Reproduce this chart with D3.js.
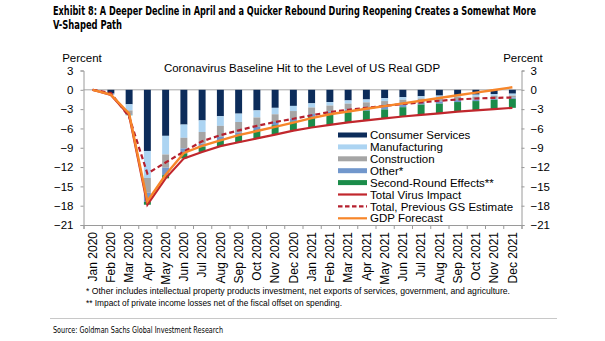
<!DOCTYPE html>
<html>
<head>
<meta charset="utf-8">
<script src="https://cdnjs.cloudflare.com/ajax/libs/d3/7.8.5/d3.min.js"></script>
<style>
  body { margin: 0; background: #fff; }
  svg text { font-family: "Liberation Sans", Arial, sans-serif; fill: #000; }
  svg text.narrow { font-family: "Liberation Sans Narrow", "Arial Narrow", "DejaVu Sans Condensed", sans-serif; }
</style>
</head>
<body>
<script>
// months on the x axis
var months = ["Jan 2020", "Feb 2020", "Mar 2020", "Apr 2020", "May 2020", "Jun 2020",
              "Jul 2020", "Aug 2020", "Sep 2020", "Oct 2020", "Nov 2020", "Dec 2020",
              "Jan 2021", "Feb 2021", "Mar 2021", "Apr 2021", "May 2021", "Jun 2021",
              "Jul 2021", "Aug 2021", "Sep 2021", "Oct 2021", "Nov 2021", "Dec 2021"];

// stacked contributions (percent of GDP level)
var consumerServices = [0, -0.6, -2.25, -9.5, -7.15, -5.4, -4.75, -4.1, -3.7, -3.2, -2.8, -2.5,
                        -2.1, -1.9, -1.65, -1.5, -1.3, -1.15, -1.0, -0.9, -0.8, -0.75, -0.65, -0.6];
var manufacturing    = [0, -0.1, -0.95, -4.2, -2.9, -2.05, -1.8, -1.5, -1.3, -1.1, -1.0, -0.8,
                        -0.65, -0.55, -0.5, -0.45, -0.45, -0.4, -0.35, -0.35, -0.3, -0.3, -0.3, -0.3];
var construction     = [0, -0.05, -0.6, -2.3, -2.05, -1.65, -1.8, -1.7, -1.65, -1.45, -1.2, -1.15,
                        -1.0, -0.95, -0.9, -0.85, -0.85, -0.75, -0.6, -0.55, -0.5, -0.45, -0.4, -0.3];
var other            = [0, -0.05, -0.1, -1.4, -1.15, -0.75, -0.5, -0.5, -0.4, -0.5, -0.5, -0.5,
                        -0.45, -0.45, -0.45, -0.45, -0.45, -0.4, -0.35, -0.35, -0.3, -0.25, -0.2, -0.2];
var secondRound      = [0, 0, -0.05, -0.45, -0.5, -0.8, -0.8, -0.95, -1.1, -1.3, -1.45, -1.4,
                        -1.65, -1.6, -1.55, -1.5, -1.4, -1.45, -1.6, -1.5, -1.5, -1.45, -1.45, -1.4];

// line series
var totalVirus  = [0, -0.8, -3.95, -17.85, -13.75, -10.65, -9.65, -8.75, -8.15, -7.55, -6.95, -6.35,
                   -5.85, -5.45, -5.05, -4.75, -4.45, -4.15, -3.9, -3.65, -3.4, -3.2, -3.0, -2.8];
var previousGS  = [0, -0.5, -4.2, -13.0, -11.3, -9.6, -8.0, -7.05, -6.3, -5.6, -5.0, -4.5,
                   -3.95, -3.45, -3.1, -2.8, -2.5, -2.2, -1.95, -1.7, -1.5, -1.35, -1.25, -1.2];
var gdpForecast = [0, -0.75, -3.7, -17.3, -13.2, -9.8, -8.7, -7.85, -7.05, -6.4, -5.75, -5.1,
                   -4.4, -3.8, -3.36, -2.95, -2.53, -2.11, -1.69, -1.27, -0.85, -0.44, -0.02, 0.4];

var yTicks = [3, 0, -3, -6, -9, -12, -15, -18, -21];

var barKeys   = ["Consumer Services", "Manufacturing", "Construction", "Other*", "Second-Round Effects**"];
var barColors = ["#0c2c5a", "#acd4f2", "#a5a5a5", "#7197cc", "#1b8c4a"];
var lineNames = ["Total Virus Impact", "Total, Previous GS Estimate", "GDP Forecast"];

var width = 605, height = 341;
var svg = d3.select("body").append("svg")
    .attr("width", width)
    .attr("height", height);

// header
svg.append("text").attr("class", "narrow")
    .attr("x", 53).attr("y", 15)
    .attr("textLength", 483).attr("lengthAdjust", "spacingAndGlyphs")
    .style("font-size", "11.5px").style("font-weight", "bold")
    .text("Exhibit 8: A Deeper Decline in April and a Quicker Rebound During Reopening Creates a Somewhat More");
svg.append("text").attr("class", "narrow")
    .attr("x", 53).attr("y", 29)
    .attr("textLength", 69).attr("lengthAdjust", "spacingAndGlyphs")
    .style("font-size", "11.5px").style("font-weight", "bold")
    .text("V-Shaped Path");

var plotLeft = 83.5, plotRight = 521.5, plotTop = 70.5, plotBottom = 225;

var x = d3.scaleBand()
    .domain(months)
    .range([plotLeft, plotRight])
    .paddingInner(0.62)
    .paddingOuter(0.31);

var y = d3.scaleLinear()
    .domain([-21, 3])
    .range([plotBottom, plotTop]);

var cx = function(d, i) { return x(months[i]) + x.bandwidth() / 2; };

// zero line
svg.append("line")
    .attr("x1", plotLeft).attr("x2", plotRight)
    .attr("y1", y(0)).attr("y2", y(0))
    .attr("stroke", "#a6a6a6").attr("stroke-width", 1);

// stacked bars
var rows = months.map(function(m, i) {
  return {
    month: m,
    "Consumer Services": consumerServices[i],
    "Manufacturing": manufacturing[i],
    "Construction": construction[i],
    "Other*": other[i],
    "Second-Round Effects**": secondRound[i]
  };
});
var stacked = d3.stack().keys(barKeys).offset(d3.stackOffsetDiverging)(rows);

svg.append("g").selectAll("g")
   .data(stacked)
   .enter()
   .append("g")
   .attr("fill", function(d, i) { return barColors[i]; })
   .selectAll("rect")
   .data(function(d) { return d; })
   .enter()
   .append("rect")
   .attr("x", function(d) { return x(d.data.month); })
   .attr("width", x.bandwidth())
   .attr("y", function(d) { return y(Math.max(d[0], d[1])); })
   .attr("height", function(d) { return Math.abs(y(d[0]) - y(d[1])); });

// lines
var line = d3.line().x(cx).y(function(d) { return y(d); });

svg.append("path").datum(totalVirus)
   .attr("d", line).attr("fill", "none")
   .attr("stroke", "#c1272d").attr("stroke-width", 2.2);
svg.append("path").datum(previousGS)
   .attr("d", line).attr("fill", "none")
   .attr("stroke", "#b5202e").attr("stroke-width", 2.2)
   .attr("stroke-dasharray", "5,3");
svg.append("path").datum(gdpForecast)
   .attr("d", line).attr("fill", "none")
   .attr("stroke", "#f7862a").attr("stroke-width", 2.4);

// axes
var axisColor = "#9a9a9a";
var leftAxis = svg.append("g")
    .attr("transform", "translate(" + plotLeft + ",0)")
    .call(d3.axisLeft(y).tickValues(yTicks).tickSize(3).tickPadding(7));
var rightAxis = svg.append("g")
    .attr("transform", "translate(" + plotRight + ",0)")
    .call(d3.axisRight(y).tickValues(yTicks).tickSize(3).tickPadding(6));

// category boundary ticks along the bottom
var xEdges = d3.scaleLinear().domain([0, months.length]).range([plotLeft, plotRight]);
var edgeAxis = svg.append("g")
    .attr("transform", "translate(0," + plotBottom + ")")
    .call(d3.axisBottom(xEdges).tickValues(d3.range(0, months.length + 1)).tickSize(4).tickFormat(""));

var monthAxis = svg.append("g")
    .attr("transform", "translate(0," + plotBottom + ")")
    .call(d3.axisBottom(x).tickSize(0));
monthAxis.select(".domain").remove();

[leftAxis, rightAxis, edgeAxis].forEach(function(g) {
  g.selectAll(".domain, line").attr("stroke", axisColor);
});
svg.selectAll(".tick text").style("font-size", "11.5px").attr("fill", "#000");

monthAxis.selectAll("text")
    .attr("transform", "rotate(-90)")
    .attr("x", -7).attr("y", 0).attr("dy", "0.36em")
    .style("text-anchor", "end")
    .style("font-size", "12px");

svg.append("text").attr("x", 82).attr("y", 62).attr("text-anchor", "middle")
   .style("font-size", "11.5px").text("Percent");
svg.append("text").attr("x", 523).attr("y", 62).attr("text-anchor", "middle")
   .style("font-size", "11.5px").text("Percent");

svg.append("text").attr("x", 302).attr("y", 72).attr("text-anchor", "middle")
   .style("font-size", "11.5px")
   .text("Coronavirus Baseline Hit to the Level of US Real GDP");

// legend
var legend = svg.append("g").attr("transform", "translate(338,135)");
var legendItems = barKeys.map(function(k, i) { return { name: k, type: "bar", color: barColors[i] }; })
  .concat([
    { name: lineNames[0], type: "line", color: "#c1272d" },
    { name: lineNames[1], type: "dash", color: "#b5202e" },
    { name: lineNames[2], type: "line", color: "#f7862a" }
  ]);

var item = legend.selectAll("g")
    .data(legendItems)
    .enter()
    .append("g")
    .attr("transform", function(d, i) { return "translate(0," + (i * 11.9) + ")"; });

item.filter(function(d) { return d.type === "bar"; })
    .append("rect")
    .attr("x", 0).attr("y", -2.5).attr("width", 29).attr("height", 5)
    .attr("fill", function(d) { return d.color; });
item.filter(function(d) { return d.type !== "bar"; })
    .append("line")
    .attr("x1", 0).attr("x2", 29).attr("y1", 0).attr("y2", 0)
    .attr("stroke", function(d) { return d.color; })
    .attr("stroke-width", 2.2)
    .attr("stroke-dasharray", function(d) { return d.type === "dash" ? "4.5,2.5" : null; });
item.append("text")
    .attr("x", 32).attr("y", 0).attr("dy", "0.36em")
    .style("font-size", "11.5px")
    .text(function(d) { return d.name; });

// notes
svg.append("text").attr("x", 86).attr("y", 294)
   .attr("textLength", 424).attr("lengthAdjust", "spacingAndGlyphs")
   .style("font-size", "9px")
   .text("* Other includes intellectual property products investment, net exports of services, government, and agriculture.");
svg.append("text").attr("x", 86).attr("y", 306)
   .attr("textLength", 256).attr("lengthAdjust", "spacingAndGlyphs")
   .style("font-size", "9px")
   .text("** Impact of private income losses net of the fiscal offset on spending.");

svg.append("line")
   .attr("x1", 50).attr("x2", 557).attr("y1", 318.5).attr("y2", 318.5)
   .attr("stroke", "#c8c8c8").attr("stroke-width", 1);
svg.append("text").attr("class", "narrow")
   .attr("x", 53).attr("y", 333)
   .attr("textLength", 170).attr("lengthAdjust", "spacingAndGlyphs")
   .style("font-size", "9px").attr("fill", "#555")
   .text("Source: Goldman Sachs Global Investment Research");
</script>
</body>
</html>
